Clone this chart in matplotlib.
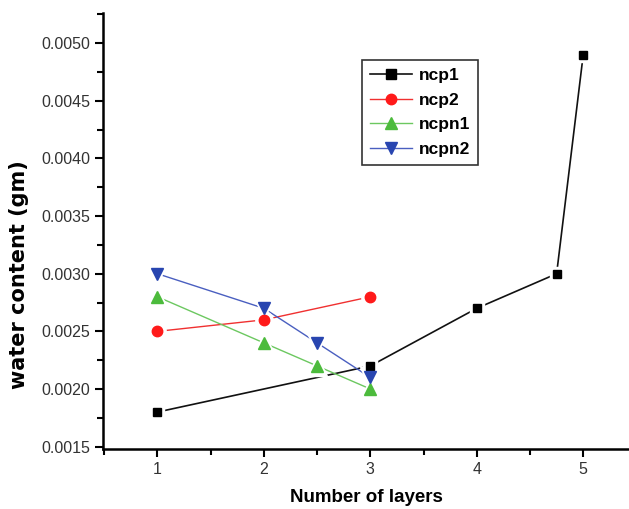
import matplotlib
matplotlib.use("Agg")
import matplotlib.pyplot as plt
from matplotlib.ticker import MultipleLocator
from matplotlib.lines import Line2D

plt.rcParams['font.family'] = ['Liberation Sans', 'DejaVu Sans']

ncp1_x = [1, 3, 4, 4.75, 5]
ncp1_y = [0.0018, 0.0022, 0.0027, 0.0030, 0.0049]
ncp2_x = [1, 2, 3]
ncp2_y = [0.0025, 0.0026, 0.0028]
ncpn1_x = [1, 2, 2.5, 3]
ncpn1_y = [0.0028, 0.0024, 0.0022, 0.0020]
ncpn2_x = [1, 2, 2.5, 3]
ncpn2_y = [0.0030, 0.0027, 0.0024, 0.0021]
labels = ['ncp1', 'ncp2', 'ncpn1', 'ncpn2']
xticks = [1, 2, 3, 4, 5]
yticks = [0.0015, 0.0020, 0.0025, 0.0030, 0.0035, 0.0040, 0.0045, 0.0050]

series = [(ncp1_x, ncp1_y), (ncp2_x, ncp2_y), (ncpn1_x, ncpn1_y), (ncpn2_x, ncpn2_y)]
styles = [
    dict(lc='#111111', lw=1.2, m='s', ms=5.5, lms=7, mc='#000000'),
    dict(lc='#f03030', lw=1.0, m='o', ms=7.5, lms=7.5, mc='#ff1a1a'),
    dict(lc='#6cc860', lw=1.0, m='^', ms=9, lms=8.5, mc='#4cbb3c'),
    dict(lc='#4a5fc0', lw=1.0, m='v', ms=9, lms=8.5, mc='#2845b0'),
]

fig = plt.figure(figsize=(6.29, 5.09), dpi=100)
ax = fig.add_axes([0.164, 0.118, 0.836, 0.856])

handles = []
for (x, y), st, lab in zip(series, styles, labels):
    ax.plot(x, y, color=st['lc'], lw=st['lw'], zorder=2)
    ax.plot(x, y, ls='none', marker=st['m'], ms=st['ms'] + 5, mfc='white', mec='white', zorder=3)
    ax.plot(x, y, ls='none', marker=st['m'], ms=st['ms'], mfc=st['mc'], mec=st['mc'], zorder=4)
    handles.append(Line2D([], [], color=st['lc'], lw=st['lw'], marker=st['m'], ms=st['lms'],
                          mfc=st['mc'], mec=st['mc'], label=lab))

ax.set_xlim(0.49, 5.43)
ax.set_ylim(0.00148, 0.00526)
ax.set_xticks(xticks)
ax.set_yticks(yticks)
ax.set_yticklabels([f"{v:.4f}" for v in yticks])
ax.xaxis.set_minor_locator(MultipleLocator(0.5))
ax.yaxis.set_minor_locator(MultipleLocator(0.00025))
ax.tick_params(which='major', direction='out', length=6, width=1.5, labelsize=11.5, labelcolor='#333333')
ax.tick_params(which='minor', direction='out', length=4, width=1.5)
for s in ['top', 'right']:
    ax.spines[s].set_visible(False)
for s in ['left', 'bottom']:
    ax.spines[s].set_linewidth(1.8)

ax.set_xlabel('Number of layers', fontsize=13.5, fontweight='bold')
ax.set_ylabel('water content (gm)', fontsize=15, fontweight='bold', family=['DejaVu Sans'])
ax.xaxis.set_label_coords(0.5, -0.093)
ax.yaxis.set_label_coords(-0.141, 0.40)

leg = ax.legend(handles=handles, loc='upper left', bbox_to_anchor=(0.476, 0.912), frameon=True, fancybox=False,
                edgecolor='black', prop={'weight': 'bold', 'size': 12.5}, handlelength=2.4,
                borderpad=0.45, labelspacing=0.54, handletextpad=0.4)
leg.get_frame().set_linewidth(1.2)

fig.savefig('out.png', dpi=100)
